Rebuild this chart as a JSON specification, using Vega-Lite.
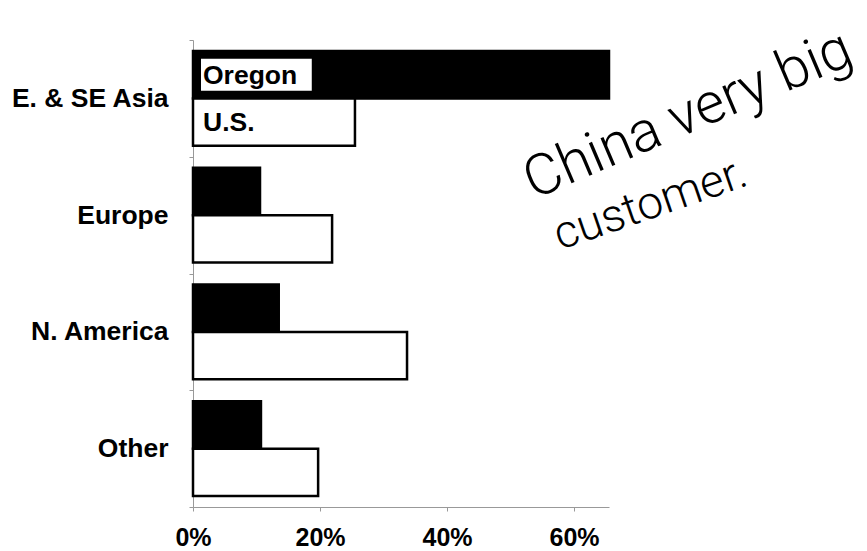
{
  "$schema": "https://vega.github.io/schema/vega-lite/v6.json",
  "width": 416,
  "height": 467,
  "autosize": {"type": "none"},
  "padding": {"left": 193, "top": 40, "right": 258, "bottom": 44},
  "background": "white",
  "config": {"view": {"stroke": null}, "font": "Liberation Sans"},
  "datasets": {
    "shares": [
      {"region": "E. & SE Asia", "series": "Oregon", "share": 0.655},
      {"region": "E. & SE Asia", "series": "U.S.", "share": 0.255},
      {"region": "Europe", "series": "Oregon", "share": 0.1055},
      {"region": "Europe", "series": "U.S.", "share": 0.219},
      {"region": "N. America", "series": "Oregon", "share": 0.135},
      {"region": "N. America", "series": "U.S.", "share": 0.337},
      {"region": "Other", "series": "Oregon", "share": 0.107},
      {"region": "Other", "series": "U.S.", "share": 0.197}
    ],
    "labels": [
      {"region": "E. & SE Asia", "series": "Oregon", "label": "Oregon"},
      {"region": "E. & SE Asia", "series": "U.S.", "label": "U.S."}
    ],
    "note": [
      {"line": 1, "note": "China very big"},
      {"line": 2, "note": "customer."}
    ]
  },
  "layer": [
    {
      "data": {"name": "shares"},
      "mark": {"type": "bar", "stroke": "black", "strokeWidth": 2.5},
      "encoding": {
        "y": {
          "field": "region",
          "type": "nominal",
          "sort": ["E. & SE Asia", "Europe", "N. America", "Other"],
          "scale": {"paddingInner": 0, "paddingOuter": 0},
          "axis": {
            "title": null,
            "tickBand": "extent",
            "tickSize": 4,
            "tickColor": "#999",
            "domainColor": "#999",
            "labelFontSize": 26.5,
            "labelFontWeight": "bold",
            "labelColor": "black",
            "labelPadding": 21,
            "labelFont": "Liberation Sans"
          }
        },
        "yOffset": {
          "field": "series",
          "type": "nominal",
          "sort": ["Oregon", "U.S."],
          "scale": {"paddingInner": 0, "paddingOuter": 0.23}
        },
        "x": {
          "field": "share",
          "type": "quantitative",
          "scale": {"domain": [0, 0.655], "nice": false},
          "axis": {
            "title": null,
            "values": [0, 0.2, 0.4, 0.6],
            "format": ".0%",
            "grid": false,
            "labelFlush": false,
            "tickSize": 4,
            "tickColor": "#999",
            "domainColor": "#999",
            "labelFontSize": 25,
            "labelFontWeight": "bold",
            "labelColor": "black",
            "labelPadding": 14,
            "labelFont": "Liberation Sans"
          }
        },
        "fill": {
          "field": "series",
          "type": "nominal",
          "scale": {"domain": ["Oregon", "U.S."], "range": ["black", "white"]},
          "legend": null
        }
      }
    },
    {
      "data": {"name": "labels"},
      "transform": [{"filter": "datum.series === 'Oregon'"}],
      "mark": {"type": "bar", "fill": "white", "height": 32},
      "encoding": {
        "y": {"field": "region", "type": "nominal"},
        "yOffset": {"field": "series", "type": "nominal"},
        "x": {"datum": 0.0126},
        "x2": {"datum": 0.187}
      }
    },
    {
      "data": {"name": "labels"},
      "mark": {"type": "text", "align": "left", "baseline": "middle", "dx": 10, "dy": 1, "fontSize": 26.5, "fontWeight": "bold", "font": "Liberation Sans", "color": "black"},
      "encoding": {
        "y": {"field": "region", "type": "nominal"},
        "yOffset": {"field": "series", "type": "nominal"},
        "x": {"datum": 0},
        "text": {"field": "label"}
      }
    },
    {
      "data": {"name": "note"},
      "transform": [{"filter": "datum.line === 1"}],
      "mark": {"type": "text", "align": "left", "baseline": "alphabetic", "angle": -23, "fontSize": 57, "font": "Roboto", "fontWeight": 300, "dy": -17, "color": "black"},
      "encoding": {
        "x": {"datum": 0.5465},
        "y": {"datum": "Europe", "type": "nominal"},
        "text": {"field": "note"}
      }
    },
    {
      "data": {"name": "note"},
      "transform": [{"filter": "datum.line === 2"}],
      "mark": {"type": "text", "align": "left", "baseline": "alphabetic", "angle": -19, "fontSize": 46, "font": "Roboto", "fontWeight": 300, "dy": 37, "color": "black"},
      "encoding": {
        "x": {"datum": 0.559},
        "y": {"datum": "Europe", "type": "nominal"},
        "text": {"field": "note"}
      }
    }
  ]
}
